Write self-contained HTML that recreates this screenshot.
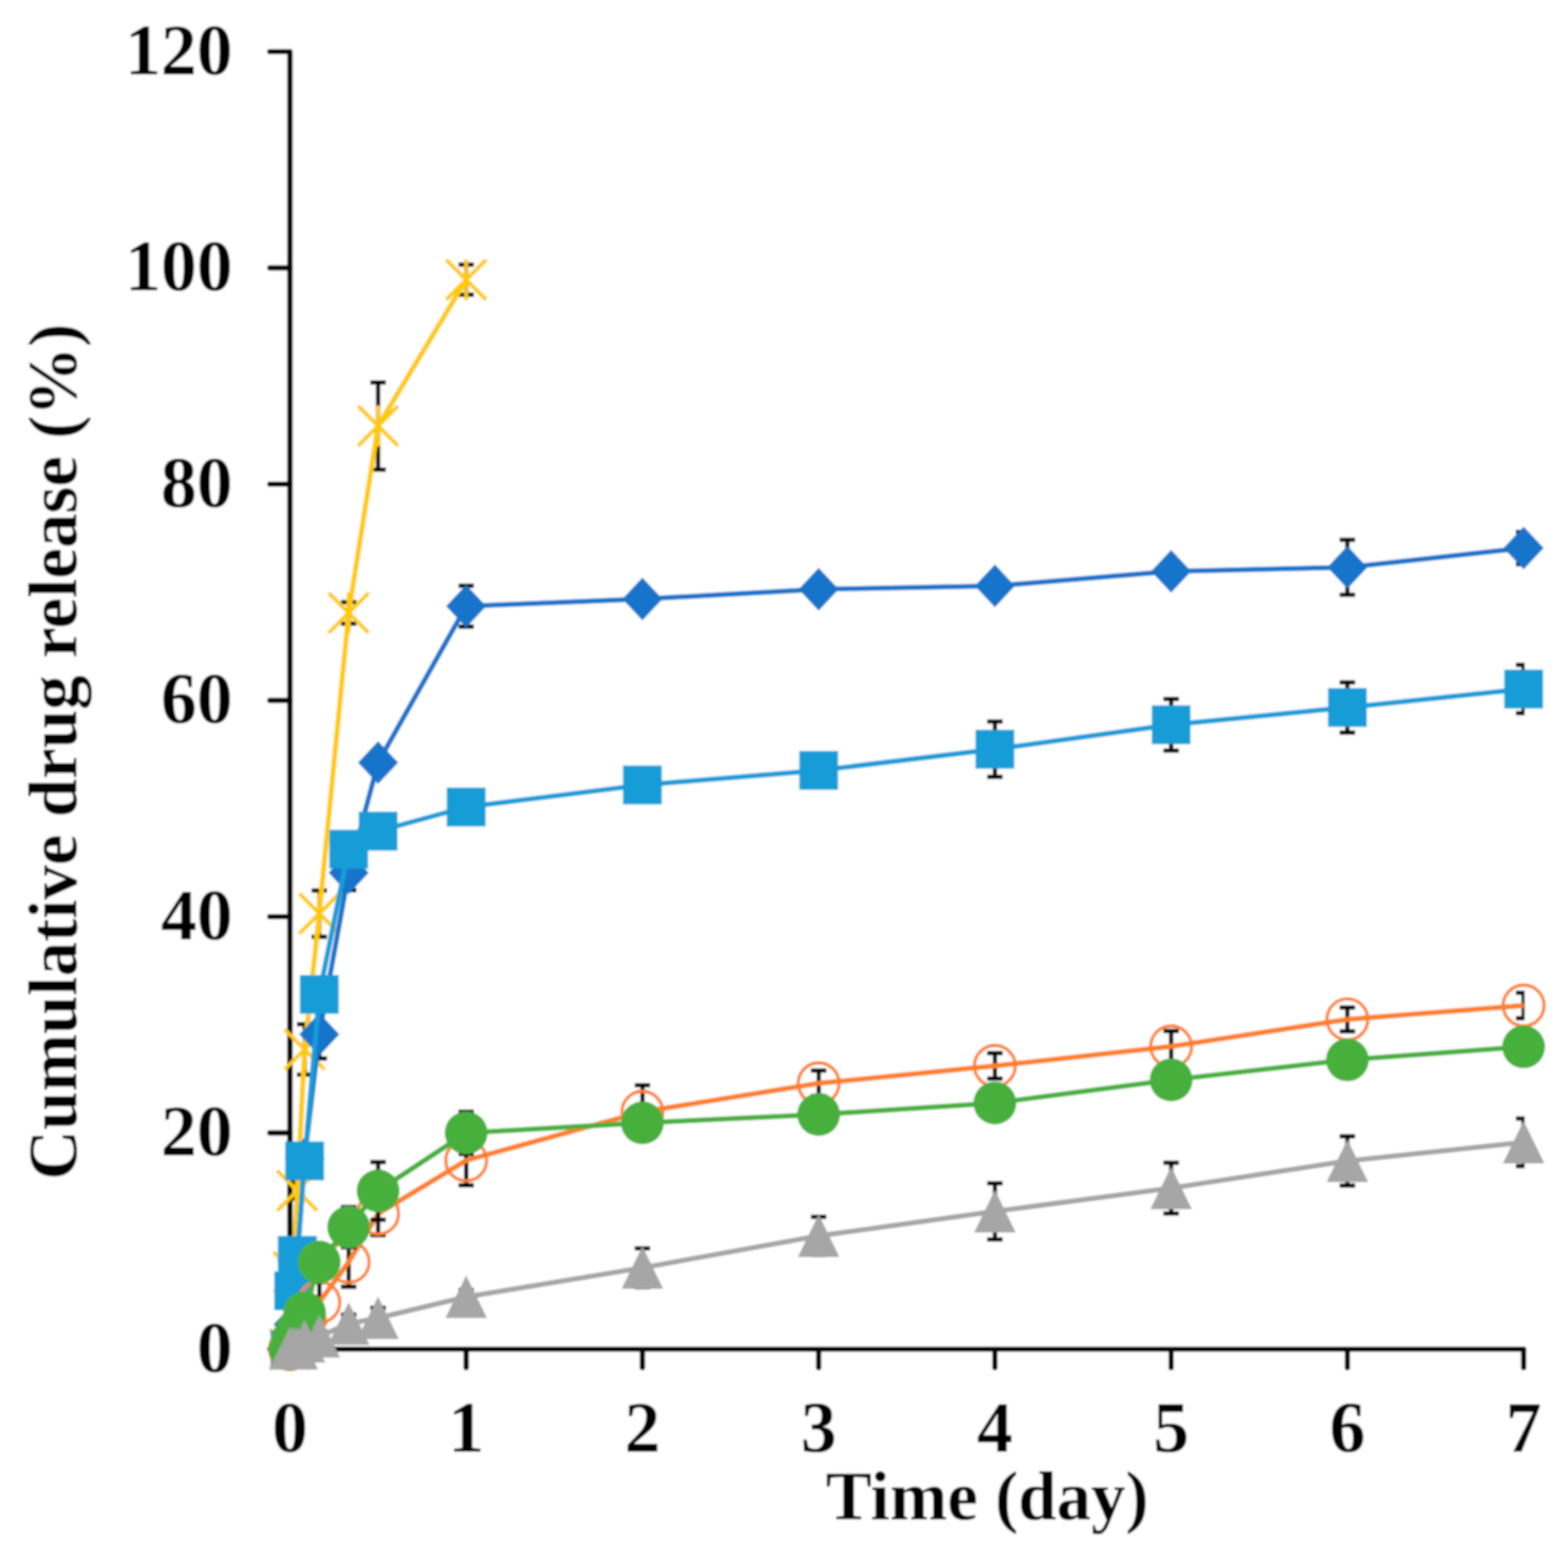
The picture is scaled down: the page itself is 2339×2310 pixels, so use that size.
<!DOCTYPE html>
<html><head><meta charset="utf-8"><title>Cumulative drug release</title>
<style>html,body{margin:0;padding:0;background:#fff;overflow:hidden}svg{display:block}</style>
</head><body>
<svg xmlns="http://www.w3.org/2000/svg" width="2339" height="2310" viewBox="0 0 2339 2310">
<defs><filter id="soft" x="0" y="0" width="100%" height="100%" filterUnits="userSpaceOnUse"><feGaussianBlur stdDeviation="1.5"/></filter><clipPath id="pa"><rect x="431.5" y="0" width="1842.7999999999997" height="2015.0"/></clipPath></defs>
<rect width="2339" height="2310" fill="#fff"/>
<g filter="url(#soft)"><rect width="2339" height="2310" fill="#fff"/>
<path d="M402.5,77.0H432.5V2012.0H2272.8V2039.5" stroke="#000" stroke-width="8" fill="none" stroke-linejoin="round" stroke-linecap="round"/>
<path d="M402.5,2012.0H432.5M402.5,1689.5H432.5M402.5,1367.0H432.5M402.5,1044.5H432.5M402.5,722.0H432.5M402.5,399.5H432.5M695.4,2012.0V2039.5M958.3,2012.0V2039.5M1221.2,2012.0V2039.5M1484.1,2012.0V2039.5M1747.0,2012.0V2039.5M2009.9,2012.0V2039.5" stroke="#000" stroke-width="8" fill="none" stroke-linecap="round"/>
<path d="M438.0,1877.0V1917.0M426.5,1877.0H449.5M426.5,1917.0H449.5M443.5,1763.6V1787.6M432.0,1763.6H455.0M432.0,1787.6H455.0M454.4,1527.3V1602.7M442.9,1527.3H465.9M442.9,1602.7H465.9M476.3,1327.9V1396.9M464.8,1327.9H487.8M464.8,1396.9H487.8M520.1,898.0V930.0M508.6,898.0H531.6M508.6,930.0H531.6M564.0,570.2V700.2M552.5,570.2H575.5M552.5,700.2H575.5M695.4,394.8V439.6M683.9,394.8H706.9M683.9,439.6H706.9" stroke="#000" stroke-width="6.5" fill="none" clip-path="url(#pa)"/>
<polyline points="432.5,2012.0 438.0,1897.0 443.5,1775.6 454.4,1565.0 476.3,1362.4 520.1,914.0 564.0,635.2 695.4,417.2" fill="none" stroke="#FFCA00" stroke-width="7.5" stroke-linejoin="round"/>
<path d="M404.5,1984.0L460.5,2040.0M460.5,1984.0L404.5,2040.0M432.5,1984.0V2040.0M410.0,1869.0L466.0,1925.0M466.0,1869.0L410.0,1925.0M438.0,1869.0V1925.0M415.5,1747.6L471.5,1803.6M471.5,1747.6L415.5,1803.6M443.5,1747.6V1803.6M426.4,1537.0L482.4,1593.0M482.4,1537.0L426.4,1593.0M454.4,1537.0V1593.0M448.3,1334.4L504.3,1390.4M504.3,1334.4L448.3,1390.4M476.3,1334.4V1390.4M492.1,886.0L548.1,942.0M548.1,886.0L492.1,942.0M520.1,886.0V942.0M536.0,607.2L592.0,663.2M592.0,607.2L536.0,663.2M564.0,607.2V663.2M667.4,389.2L723.4,445.2M723.4,389.2L667.4,445.2M695.4,389.2V445.2" stroke="#FFCA00" stroke-width="6" fill="none" stroke-linecap="round"/>
<path d="M438.0,1965.0V1985.0M426.5,1965.0H449.5M426.5,1985.0H449.5M443.5,1865.0V1895.0M432.0,1865.0H455.0M432.0,1895.0H455.0M454.4,1708.0V1748.0M442.9,1708.0H465.9M442.9,1748.0H465.9M476.3,1506.6V1578.6M464.8,1506.6H487.8M464.8,1578.6H487.8M520.1,1275.6V1327.6M508.6,1275.6H531.6M508.6,1327.6H531.6M564.0,1127.2V1147.2M552.5,1127.2H575.5M552.5,1147.2H575.5M695.4,873.6V934.6M683.9,873.6H706.9M683.9,934.6H706.9M958.3,883.3V903.3M946.8,883.3H969.8M946.8,903.3H969.8M1221.2,866.8V890.8M1209.7,866.8H1232.7M1209.7,890.8H1232.7M1484.1,863.8V883.8M1472.6,863.8H1495.6M1472.6,883.8H1495.6M1747.0,840.1V864.1M1735.5,840.1H1758.5M1735.5,864.1H1758.5M2009.9,805.1V887.1M1998.4,805.1H2021.4M1998.4,887.1H2021.4M2272.8,793.3V841.3M2261.3,793.3H2284.3M2261.3,841.3H2284.3" stroke="#000" stroke-width="6.5" fill="none" clip-path="url(#pa)"/>
<polyline points="432.5,2012.0 438.0,1975.0 443.5,1880.0 454.4,1728.0 476.3,1542.6 520.1,1301.6 564.0,1137.2 695.4,904.1 958.3,893.3 1221.2,878.8 1484.1,873.8 1747.0,852.1 2009.9,846.1 2272.8,817.3" fill="none" stroke="#1674CB" stroke-width="7.5" stroke-linejoin="round"/>
<path d="M432.5,1980.0L462.5,2012.0L432.5,2044.0L402.5,2012.0ZM438.0,1943.0L468.0,1975.0L438.0,2007.0L408.0,1975.0ZM443.5,1848.0L473.5,1880.0L443.5,1912.0L413.5,1880.0ZM454.4,1696.0L484.4,1728.0L454.4,1760.0L424.4,1728.0ZM476.3,1510.6L506.3,1542.6L476.3,1574.6L446.3,1542.6ZM520.1,1269.6L550.1,1301.6L520.1,1333.6L490.1,1301.6ZM564.0,1105.2L594.0,1137.2L564.0,1169.2L534.0,1137.2ZM695.4,872.1L725.4,904.1L695.4,936.1L665.4,904.1ZM958.3,861.3L988.3,893.3L958.3,925.3L928.3,893.3ZM1221.2,846.8L1251.2,878.8L1221.2,910.8L1191.2,878.8ZM1484.1,841.8L1514.1,873.8L1484.1,905.8L1454.1,873.8ZM1747.0,820.1L1777.0,852.1L1747.0,884.1L1717.0,852.1ZM2009.9,814.1L2039.9,846.1L2009.9,878.1L1979.9,846.1ZM2272.8,785.3L2302.8,817.3L2272.8,849.3L2242.8,817.3Z" fill="#1674CB"/>
<path d="M438.0,1915.0V1935.0M426.5,1915.0H449.5M426.5,1935.0H449.5M443.5,1857.0V1887.0M432.0,1857.0H455.0M432.0,1887.0H455.0M454.4,1711.3V1751.3M442.9,1711.3H465.9M442.9,1751.3H465.9M476.3,1463.0V1503.0M464.8,1463.0H487.8M464.8,1503.0H487.8M520.1,1246.4V1286.4M508.6,1246.4H531.6M508.6,1286.4H531.6M564.0,1219.5V1259.5M552.5,1219.5H575.5M552.5,1259.5H575.5M695.4,1183.5V1223.5M683.9,1183.5H706.9M683.9,1223.5H706.9M958.3,1150.6V1190.6M946.8,1150.6H969.8M946.8,1190.6H969.8M1221.2,1128.9V1168.9M1209.7,1128.9H1232.7M1209.7,1168.9H1232.7M1484.1,1076.1V1158.5M1472.6,1076.1H1495.6M1472.6,1158.5H1495.6M1747.0,1042.3V1119.3M1735.5,1042.3H1758.5M1735.5,1119.3H1758.5M2009.9,1017.8V1092.4M1998.4,1017.8H2021.4M1998.4,1092.4H2021.4M2272.8,991.6V1063.6M2261.3,991.6H2284.3M2261.3,1063.6H2284.3" stroke="#000" stroke-width="6.5" fill="none" clip-path="url(#pa)"/>
<polyline points="432.5,2013.0 438.0,1925.0 443.5,1872.0 454.4,1731.3 476.3,1483.0 520.1,1266.4 564.0,1239.5 695.4,1203.5 958.3,1170.6 1221.2,1148.9 1484.1,1117.3 1747.0,1080.8 2009.9,1055.1 2272.8,1027.6" fill="none" stroke="#189DD8" stroke-width="7.5" stroke-linejoin="round"/>
<g fill="#189DD8"><rect x="403.5" y="1984.0" width="58" height="58"/><rect x="409.0" y="1896.0" width="58" height="58"/><rect x="414.5" y="1843.0" width="58" height="58"/><rect x="425.4" y="1702.3" width="58" height="58"/><rect x="447.3" y="1454.0" width="58" height="58"/><rect x="491.1" y="1237.4" width="58" height="58"/><rect x="535.0" y="1210.5" width="58" height="58"/><rect x="666.4" y="1174.5" width="58" height="58"/><rect x="929.3" y="1141.6" width="58" height="58"/><rect x="1192.2" y="1119.9" width="58" height="58"/><rect x="1455.1" y="1088.3" width="58" height="58"/><rect x="1718.0" y="1051.8" width="58" height="58"/><rect x="1980.9" y="1026.1" width="58" height="58"/><rect x="2243.8" y="998.6" width="58" height="58"/></g>
<path d="M438.0,1995.0V2005.0M426.5,1995.0H449.5M426.5,2005.0H449.5M443.5,1980.0V2000.0M432.0,1980.0H455.0M432.0,2000.0H455.0M454.4,1948.0V1988.0M442.9,1948.0H465.9M442.9,1988.0H465.9M476.3,1912.0V1972.0M464.8,1912.0H487.8M464.8,1972.0H487.8M520.1,1845.0V1919.0M508.6,1845.0H531.6M508.6,1919.0H531.6M564.0,1778.0V1842.0M552.5,1778.0H575.5M552.5,1842.0H575.5M695.4,1693.2V1767.8M683.9,1693.2H706.9M683.9,1767.8H706.9M958.3,1618.2V1697.8M946.8,1618.2H969.8M946.8,1697.8H969.8M1221.2,1596.5V1634.5M1209.7,1596.5H1232.7M1209.7,1634.5H1232.7M1484.1,1570.4V1608.6M1472.6,1570.4H1495.6M1472.6,1608.6H1495.6M1747.0,1537.5V1583.5M1735.5,1537.5H1758.5M1735.5,1583.5H1758.5M2009.9,1502.4V1538.0M1998.4,1502.4H2021.4M1998.4,1538.0H2021.4M2272.8,1480.5V1518.5M2261.3,1480.5H2284.3M2261.3,1518.5H2284.3" stroke="#000" stroke-width="6.5" fill="none" clip-path="url(#pa)"/>
<polyline points="432.5,2012.0 438.0,2000.0 443.5,1990.0 454.4,1968.0 476.3,1942.0 520.1,1882.0 564.0,1810.0 695.4,1730.5 958.3,1658.0 1221.2,1615.5 1484.1,1589.5 1747.0,1560.5 2009.9,1520.2 2272.8,1499.5" fill="none" stroke="#FF7F27" stroke-width="7.5" stroke-linejoin="round"/>
<g fill="none" stroke="#FF7F27" stroke-width="4.8"><circle cx="432.5" cy="2012.0" r="30.5"/><circle cx="438.0" cy="2000.0" r="30.5"/><circle cx="443.5" cy="1990.0" r="30.5"/><circle cx="454.4" cy="1968.0" r="30.5"/><circle cx="476.3" cy="1942.0" r="30.5"/><circle cx="520.1" cy="1882.0" r="30.5"/><circle cx="564.0" cy="1810.0" r="30.5"/><circle cx="695.4" cy="1730.5" r="30.5"/><circle cx="958.3" cy="1658.0" r="30.5"/><circle cx="1221.2" cy="1615.5" r="30.5"/><circle cx="1484.1" cy="1589.5" r="30.5"/><circle cx="1747.0" cy="1560.5" r="30.5"/><circle cx="2009.9" cy="1520.2" r="30.5"/><circle cx="2272.8" cy="1499.5" r="30.5"/></g>
<path d="M438.0,1990.0V2000.0M426.5,1990.0H449.5M426.5,2000.0H449.5M443.5,1975.0V1995.0M432.0,1975.0H455.0M432.0,1995.0H455.0M454.4,1942.7V1972.7M442.9,1942.7H465.9M442.9,1972.7H465.9M476.3,1862.0V1902.0M464.8,1862.0H487.8M464.8,1902.0H487.8M520.1,1800.0V1860.0M508.6,1800.0H531.6M508.6,1860.0H531.6M564.0,1733.0V1819.0M552.5,1733.0H575.5M552.5,1819.0H575.5M695.4,1658.0V1721.0M683.9,1658.0H706.9M683.9,1721.0H706.9M958.3,1654.5V1694.5M946.8,1654.5H969.8M946.8,1694.5H969.8M1221.2,1642.0V1682.0M1209.7,1642.0H1232.7M1209.7,1682.0H1232.7M1484.1,1624.9V1664.9M1472.6,1624.9H1495.6M1472.6,1664.9H1495.6M1747.0,1590.5V1630.5M1735.5,1590.5H1758.5M1735.5,1630.5H1758.5M2009.9,1560.6V1600.6M1998.4,1560.6H2021.4M1998.4,1600.6H2021.4M2272.8,1541.1V1581.1M2261.3,1541.1H2284.3M2261.3,1581.1H2284.3" stroke="#000" stroke-width="6.5" fill="none" clip-path="url(#pa)"/>
<polyline points="432.5,2012.0 438.0,1995.0 443.5,1985.0 454.4,1957.7 476.3,1882.0 520.1,1830.0 564.0,1776.0 695.4,1689.5 958.3,1674.5 1221.2,1662.0 1484.1,1644.9 1747.0,1610.5 2009.9,1580.6 2272.8,1561.1" fill="none" stroke="#46B03C" stroke-width="7.5" stroke-linejoin="round"/>
<g fill="#46B03C"><circle cx="432.5" cy="2012.0" r="32"/><circle cx="438.0" cy="1995.0" r="32"/><circle cx="443.5" cy="1985.0" r="32"/><circle cx="454.4" cy="1957.7" r="32"/><circle cx="476.3" cy="1882.0" r="32"/><circle cx="520.1" cy="1830.0" r="32"/><circle cx="564.0" cy="1776.0" r="32"/><circle cx="695.4" cy="1689.5" r="32"/><circle cx="958.3" cy="1674.5" r="32"/><circle cx="1221.2" cy="1662.0" r="32"/><circle cx="1484.1" cy="1644.9" r="32"/><circle cx="1747.0" cy="1610.5" r="32"/><circle cx="2009.9" cy="1580.6" r="32"/><circle cx="2272.8" cy="1561.1" r="32"/></g>
<path d="M438.0,2009.0V2013.0M426.5,2009.0H449.5M426.5,2013.0H449.5M443.5,2008.0V2014.0M432.0,2008.0H455.0M432.0,2014.0H455.0M454.4,1995.5V2005.5M442.9,1995.5H465.9M442.9,2005.5H465.9M476.3,1985.0V2001.0M464.8,1985.0H487.8M464.8,2001.0H487.8M520.1,1960.2V1987.8M508.6,1960.2H531.6M508.6,1987.8H531.6M564.0,1950.3V1980.7M552.5,1950.3H575.5M552.5,1980.7H575.5M695.4,1924.0V1944.0M683.9,1924.0H706.9M683.9,1944.0H706.9M958.3,1861.8V1919.4M946.8,1861.8H969.8M946.8,1919.4H969.8M1221.2,1814.8V1871.2M1209.7,1814.8H1232.7M1209.7,1871.2H1232.7M1484.1,1764.8V1848.2M1472.6,1764.8H1495.6M1472.6,1848.2H1495.6M1747.0,1733.9V1809.7M1735.5,1733.9H1758.5M1735.5,1809.7H1758.5M2009.9,1694.5V1768.1M1998.4,1694.5H2021.4M1998.4,1768.1H2021.4M2272.8,1667.9V1739.1M2261.3,1667.9H2284.3M2261.3,1739.1H2284.3" stroke="#000" stroke-width="6.5" fill="none" clip-path="url(#pa)"/>
<polyline points="432.5,2011.0 438.0,2011.0 443.5,2011.0 454.4,2000.5 476.3,1993.0 520.1,1974.0 564.0,1965.5 695.4,1934.0 958.3,1890.6 1221.2,1843.0 1484.1,1806.5 1747.0,1771.8 2009.9,1731.3 2272.8,1703.5" fill="none" stroke="#A6A6A6" stroke-width="7.5" stroke-linejoin="round"/>
<path d="M432.5,1979.0L463.5,2042.5L401.5,2042.5ZM438.0,1979.0L469.0,2042.5L407.0,2042.5ZM443.5,1979.0L474.5,2042.5L412.5,2042.5ZM454.4,1968.5L485.4,2032.0L423.4,2032.0ZM476.3,1961.0L507.3,2024.5L445.3,2024.5ZM520.1,1942.0L551.1,2005.5L489.1,2005.5ZM564.0,1933.5L595.0,1997.0L533.0,1997.0ZM695.4,1902.0L726.4,1965.5L664.4,1965.5ZM958.3,1858.6L989.3,1922.1L927.3,1922.1ZM1221.2,1811.0L1252.2,1874.5L1190.2,1874.5ZM1484.1,1774.5L1515.1,1838.0L1453.1,1838.0ZM1747.0,1739.8L1778.0,1803.3L1716.0,1803.3ZM2009.9,1699.3L2040.9,1762.8L1978.9,1762.8ZM2272.8,1671.5L2303.8,1735.0L2241.8,1735.0Z" fill="#A6A6A6"/>
<g font-family="Liberation Serif, serif" font-weight="bold" font-size="107" fill="#000"><text x="347" y="2045.5" text-anchor="end">0</text><text x="347" y="1723.0" text-anchor="end">20</text><text x="347" y="1400.5" text-anchor="end">40</text><text x="347" y="1078.0" text-anchor="end">60</text><text x="347" y="755.5" text-anchor="end">80</text><text x="347" y="433.0" text-anchor="end">100</text><text x="347" y="110.5" text-anchor="end">120</text><text x="432.5" y="2164.5" text-anchor="middle">0</text><text x="695.4" y="2164.5" text-anchor="middle">1</text><text x="958.3" y="2164.5" text-anchor="middle">2</text><text x="1221.2" y="2164.5" text-anchor="middle">3</text><text x="1484.1" y="2164.5" text-anchor="middle">4</text><text x="1747.0" y="2164.5" text-anchor="middle">5</text><text x="2009.9" y="2164.5" text-anchor="middle">6</text><text x="2272.8" y="2164.5" text-anchor="middle">7</text><text x="1472.5" y="2266" text-anchor="middle" font-size="103">Time (day)</text><text transform="translate(113.7,1121) rotate(-90)" text-anchor="middle" font-size="103">Cumulative drug release (%)</text></g>
</g>
</svg>
</body></html>
